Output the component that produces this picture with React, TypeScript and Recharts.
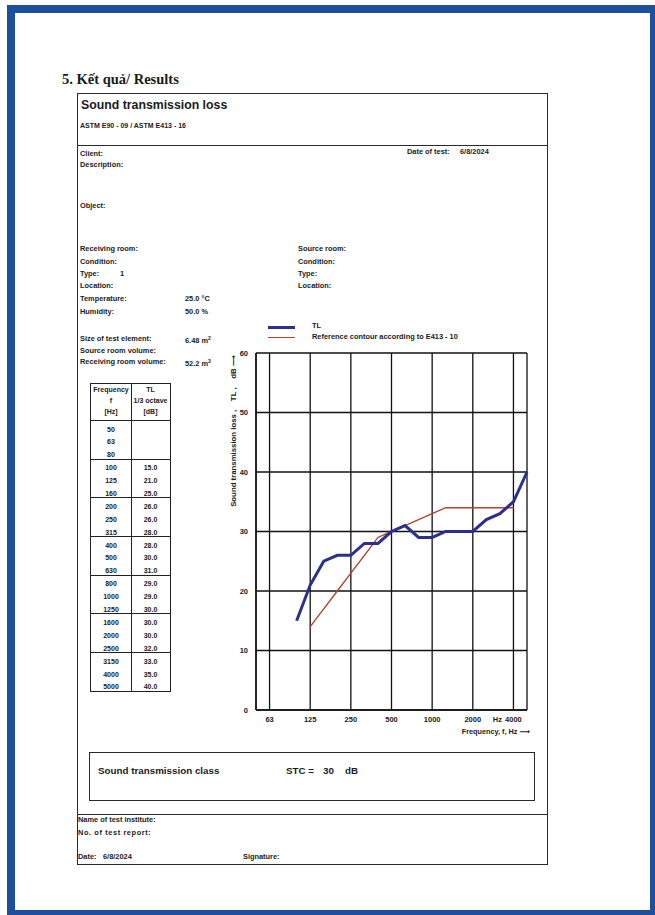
import React from "react";
import { CartesianGrid, Line, LineChart, XAxis, YAxis } from "recharts";

// 1/3 octave bands, measured TL and the E413 reference contour (STC 30)
const BANDS = ["50", "63", "80", "100", "125", "160", "200", "250", "315", "400", "500", "630", "800", "1000", "1250", "1600", "2000", "2500", "3150", "4000", "5000"];
const TL = [null, null, null, 15, 21, 25, 26, 26, 28, 28, 30, 31, 29, 29, 30, 30, 30, 32, 33, 35, 40];
const REF = [null, null, null, null, 14, 17, 20, 23, 26, 29, 30, 31, 32, 33, 34, 34, 34, 34, 34, 34, null];
const OCTAVE_LABELS = ["63", "125", "250", "500", "1000", "2000", "4000"];
const Y_TICKS = [0, 10, 20, 30, 40, 50, 60];

const data = BANDS.map((f, i) => ({ i, f, tl: TL[i], ref: REF[i] }));
const octaveTicks = BANDS.map((f, i) => (OCTAVE_LABELS.includes(f) ? i : -1)).filter((i) => i >= 0);
const bandTicks = BANDS.map((_, i) => i);

const SANS = '"Liberation Sans", Arial, "DejaVu Sans", sans-serif';
const INK = "#1b1b1b";
const TL_BLUE = "#2b2f8e";
const REF_RED = "#b3432c";
const NB = "\u00a0";

function T({ x, y, size = 7.4, bold = true, children, style }: any) {
  return (
    <div
      style={{
        position: "absolute",
        left: x,
        top: y - size * 0.62,
        fontSize: size,
        lineHeight: 1.2,
        fontFamily: SANS,
        fontWeight: bold ? 700 : 400,
        color: INK,
        whiteSpace: "nowrap",
        ...style,
      }}
    >
      {children}
    </div>
  );
}

function FreqTick({ x, y, payload }: any) {
  const label = BANDS[payload.value];
  return (
    <g fontFamily={SANS} fontSize={7.5} fontWeight={700} fill={INK}>
      {label === "4000" && (
        <text x={x - 16} y={y + 12} textAnchor="middle">
          Hz
        </text>
      )}
      <text x={x} y={y + 12} textAnchor="middle">
        {label}
      </text>
    </g>
  );
}

const NoLabel = () => <g />;

function YTitle({ viewBox }: any) {
  const cx = viewBox.x + 3;
  const cy = viewBox.y + 2;
  return (
    <text
      x={cx}
      y={cy}
      transform={`rotate(-90, ${cx}, ${cy})`}
      textAnchor="end"
      dominantBaseline="central"
      fontFamily={SANS}
      fontSize={7.8}
      fontWeight={700}
      fill={INK}
    >
      {`Sound transmission loss ,${NB}${NB}${NB}${NB}TL ,${NB}${NB}${NB}${NB}dB \u27F6`}
    </text>
  );
}

function XTitle({ viewBox }: any) {
  return (
    <text
      x={viewBox.x + viewBox.width + 3}
      y={viewBox.y + 24}
      textAnchor="end"
      fontFamily={SANS}
      fontSize={7.3}
      fontWeight={700}
      fill={INK}
    >
      {"Frequency, f, Hz \u27F6"}
    </text>
  );
}

function TLChart() {
  return (
    <LineChart width={320} height={400} data={data} margin={{ top: 13, right: 13, left: 10, bottom: 8 }}>
      <CartesianGrid stroke="#111" strokeWidth={1.3} />
      <XAxis
        dataKey="i"
        type="number"
        domain={[0, 20]}
        ticks={octaveTicks}
        interval={0}
        height={22}
        tickSize={0}
        tickMargin={0}
        tickLine={false}
        axisLine={{ stroke: "#111", strokeWidth: 1.5 }}
        tick={<FreqTick />}
        label={XTitle}
      />
      <XAxis
        xAxisId="minor"
        dataKey="i"
        type="number"
        domain={[0, 20]}
        ticks={bandTicks}
        interval={0}
        height={0}
        mirror
        tickSize={4}
        tick={<NoLabel />}
        axisLine={false}
        tickLine={{ stroke: "#111", strokeWidth: 1 }}
      />
      <XAxis
        xAxisId="top"
        orientation="top"
        dataKey="i"
        type="number"
        domain={[0, 20]}
        height={0}
        tick={false}
        tickLine={false}
        axisLine={{ stroke: "#111", strokeWidth: 1.5 }}
      />
      <YAxis
        type="number"
        domain={[0, 60]}
        ticks={Y_TICKS}
        interval={0}
        width={26}
        tickSize={0}
        tickMargin={8}
        tickLine={false}
        axisLine={{ stroke: "#111", strokeWidth: 1.5 }}
        tick={{ fill: INK, fontSize: 7.5, fontWeight: 700, fontFamily: SANS }}
        label={YTitle}
      />
      <YAxis
        yAxisId="right"
        orientation="right"
        type="number"
        domain={[0, 60]}
        width={0}
        tick={false}
        tickLine={false}
        axisLine={{ stroke: "#111", strokeWidth: 1.5 }}
      />
      <Line dataKey="ref" stroke={REF_RED} strokeWidth={1.4} dot={false} isAnimationActive={false} />
      <Line dataKey="tl" stroke={TL_BLUE} strokeWidth={3} dot={false} isAnimationActive={false} />
    </LineChart>
  );
}

function BandTable() {
  const groups: number[][] = [];
  for (let g = 0; g < 7; g++) groups.push([g * 3, g * 3 + 1, g * 3 + 2]);
  const cell = (w: number): React.CSSProperties => ({ width: w, textAlign: "center", height: 12.9, lineHeight: "13px" });
  return (
    <div
      style={{
        position: "absolute",
        left: 90,
        top: 383,
        width: 81,
        border: "1.2px solid #222",
        fontFamily: SANS,
        fontSize: 7,
        fontWeight: 700,
        color: INK,
        boxSizing: "border-box",
      }}
    >
      <div style={{ position: "absolute", left: 40, top: 0, bottom: 0, borderLeft: "1.2px solid #222" }} />
      <div style={{ display: "flex", height: 36 }}>
        <div style={{ width: 40, textAlign: "center", lineHeight: "10.8px", paddingTop: 1 }}>
          Frequency
          <br />f<br />[Hz]
        </div>
        <div style={{ width: 39, textAlign: "center", lineHeight: "10.8px", paddingTop: 1 }}>
          TL
          <br />
          1/3 octave
          <br />
          [dB]
        </div>
      </div>
      {groups.map((g, gi) => (
        <div key={gi} style={{ borderTop: "1.2px solid #222", paddingTop: 1.5, height: 38.7, boxSizing: "border-box" }}>
          {g.map((i) => (
            <div key={i} style={{ display: "flex" }}>
              <div style={cell(40)}>{BANDS[i]}</div>
              <div style={cell(39)}>{TL[i] == null ? "" : (TL[i] as number).toFixed(1)}</div>
            </div>
          ))}
        </div>
      ))}
    </div>
  );
}

export default function App() {
  const line: React.CSSProperties = { position: "absolute", background: "#2a2a2a" };
  return (
    <div style={{ position: "absolute", left: 0, top: 0, width: 655, height: 915, background: "#fff", overflow: "hidden" }}>
      {/* blue page frame */}
      <div
        style={{
          position: "absolute",
          left: 7,
          top: 5,
          width: 651,
          height: 913,
          border: "8px solid #1d4f9e",
          boxSizing: "border-box",
        }}
      />

      <T x={62} y={80} size={14.5} style={{ fontFamily: '"Liberation Serif", "Times New Roman", serif' }}>
        5. Kết quả/ Results
      </T>

      {/* outer report box */}
      <div style={{ position: "absolute", left: 77, top: 93, width: 471, height: 772, border: "1.3px solid #2a2a2a", boxSizing: "border-box" }} />
      <div style={{ ...line, left: 77, top: 145, width: 471, height: 1.3 }} />
      <div style={{ ...line, left: 77, top: 814, width: 471, height: 1.3 }} />

      <T x={81} y={106} size={12.3}>Sound transmission loss</T>
      <T x={80} y={126} size={7}>ASTM E90 - 09 / ASTM E413 - 16</T>

      <T x={80} y={155}>Client:</T>
      <T x={80} y={166}>Description:</T>
      <T x={407} y={153}>Date of test:</T>
      <T x={460} y={153}>6/8/2024</T>
      <T x={80} y={207}>Object:</T>

      <T x={80} y={250}>Receiving room:</T>
      <T x={80} y={262.5}>Condition:</T>
      <T x={80} y={275}>Type:</T>
      <T x={120} y={275}>1</T>
      <T x={80} y={287}>Location:</T>
      <T x={80} y={300}>Temperature:</T>
      <T x={185} y={300}>25.0 °C</T>
      <T x={80} y={312.5}>Humidity:</T>
      <T x={185} y={312.5}>50.0 %</T>

      <T x={298} y={250}>Source room:</T>
      <T x={298} y={262.5}>Condition:</T>
      <T x={298} y={275}>Type:</T>
      <T x={298} y={287}>Location:</T>

      <T x={80} y={340}>Size of test element:</T>
      <T x={185} y={340}>
        6.48 m<sup style={{ fontSize: 5 }}>2</sup>
      </T>
      <T x={80} y={351.5}>Source room volume:</T>
      <T x={80} y={363}>Receiving room volume:</T>
      <T x={185} y={363}>
        52.2 m<sup style={{ fontSize: 5 }}>3</sup>
      </T>

      {/* legend */}
      <div style={{ position: "absolute", left: 268, top: 326, width: 27, height: 2.5, background: TL_BLUE }} />
      <T x={312} y={327}>TL</T>
      <div style={{ position: "absolute", left: 268, top: 337, width: 27, height: 1.4, background: REF_RED }} />
      <T x={312} y={337.5}>Reference contour according to E413 - 10</T>

      <BandTable />

      <div style={{ position: "absolute", left: 220, top: 340 }}>
        <TLChart />
      </div>

      {/* STC box */}
      <div style={{ position: "absolute", left: 89, top: 752, width: 446, height: 49, border: "1.3px solid #2a2a2a", boxSizing: "border-box" }} />
      <T x={98} y={771.5} size={9.8}>Sound transmission class</T>
      <T x={286} y={771.5} size={9.8}>STC =</T>
      <T x={323} y={771.5} size={9.8}>30</T>
      <T x={345} y={771.5} size={9.8}>dB</T>

      <T x={78} y={821}>Name of test institute:</T>
      <T x={78} y={834} style={{ letterSpacing: 0.6 }}>No. of test report:</T>
      <T x={78} y={858}>Date:</T>
      <T x={103} y={858}>6/8/2024</T>
      <T x={243} y={858}>Signature:</T>
    </div>
  );
}
